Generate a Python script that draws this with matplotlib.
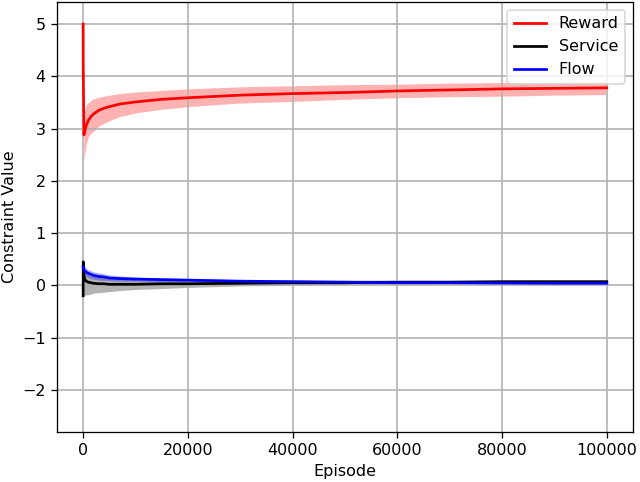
import matplotlib
matplotlib.use("Agg")
import matplotlib.pyplot as plt
import numpy as np

# Episodes at which values were read
episodes = [0, 20, 150, 300, 600, 1000, 1500, 2000, 3000, 4000, 5000, 7000,
            10000, 15000, 20000, 30000, 40000, 50000, 60000, 70000, 80000,
            90000, 100000]

reward_mean = [5.00, 4.2, 2.88, 2.95, 3.06, 3.16, 3.23, 3.28, 3.35, 3.39, 3.42, 3.47,
               3.51, 3.56, 3.59, 3.64, 3.67, 3.69, 3.72, 3.74, 3.76, 3.77, 3.78]
reward_low = [4.95, 4.0, 2.38, 2.50, 2.70, 2.85, 2.91, 2.95, 3.05, 3.10, 3.15, 3.23,
              3.30, 3.37, 3.42, 3.49, 3.52, 3.56, 3.59, 3.61, 3.62, 3.64, 3.65]
reward_high = [5.05, 4.4, 3.20, 3.35, 3.45, 3.50, 3.54, 3.57, 3.60, 3.62, 3.64, 3.67,
               3.70, 3.73, 3.76, 3.80, 3.82, 3.84, 3.85, 3.87, 3.88, 3.89, 3.90]

service_mean = [-0.20, 0.45, 0.20, 0.12, 0.08, 0.06, 0.05, 0.04, 0.03, 0.03, 0.02, 0.02,
                0.02, 0.03, 0.03, 0.04, 0.05, 0.05, 0.06, 0.06, 0.07, 0.07, 0.07]
service_low = [-2.43, -0.20, -0.20, -0.19, -0.18, -0.18, -0.17, -0.15, -0.14, -0.13, -0.12, -0.10,
               -0.08, -0.06, -0.04, -0.01, 0.00, 0.01, 0.02, 0.03, 0.03, 0.04, 0.04]
service_high = [2.00, 0.45, 0.40, 0.32, 0.27, 0.25, 0.22, 0.20, 0.17, 0.15, 0.13, 0.12,
                0.11, 0.10, 0.10, 0.10, 0.10, 0.10, 0.10, 0.10, 0.10, 0.10, 0.10]

flow_mean = [0.35, 0.33, 0.30, 0.28, 0.25, 0.23, 0.21, 0.19, 0.17, 0.16, 0.14, 0.13,
             0.12, 0.11, 0.10, 0.08, 0.07, 0.06, 0.05, 0.05, 0.045, 0.04, 0.04]
flow_low = [-0.60, 0.22, 0.20, 0.19, 0.17, 0.15, 0.13, 0.12, 0.10, 0.10, 0.09, 0.08,
            0.08, 0.07, 0.07, 0.05, 0.05, 0.04, 0.03, 0.03, 0.03, 0.02, 0.02]
flow_high = [1.30, 0.45, 0.40, 0.37, 0.33, 0.30, 0.28, 0.26, 0.24, 0.22, 0.20, 0.18,
             0.16, 0.14, 0.13, 0.11, 0.10, 0.09, 0.08, 0.07, 0.065, 0.06, 0.06]

DPI = 115
fig, ax = plt.subplots(figsize=(640 / DPI, 482 / DPI), dpi=DPI)

ax.plot(episodes, reward_mean, color="red", lw=1.7, label="Reward")
ax.fill_between(episodes, reward_low, reward_high, color="red", alpha=0.3, lw=0)
ax.plot(episodes, service_mean, color="black", lw=1.7, label="Service")
ax.fill_between(episodes, service_low, service_high, color="black", alpha=0.3, lw=0)
ax.plot(episodes, flow_mean, color="blue", lw=1.7, label="Flow")
ax.fill_between(episodes, flow_low, flow_high, color="blue", alpha=0.3, lw=0)

ax.set_xlabel("Episode", labelpad=4)
ax.set_ylabel("Constraint Value", labelpad=3.5)
ax.grid(True, color="#b0b0b0", lw=1.0)
ax.legend(loc="upper right")
fig.subplots_adjust(left=0.089, right=0.989, top=0.996, bottom=0.104)
fig.savefig("out.png", dpi=DPI)
